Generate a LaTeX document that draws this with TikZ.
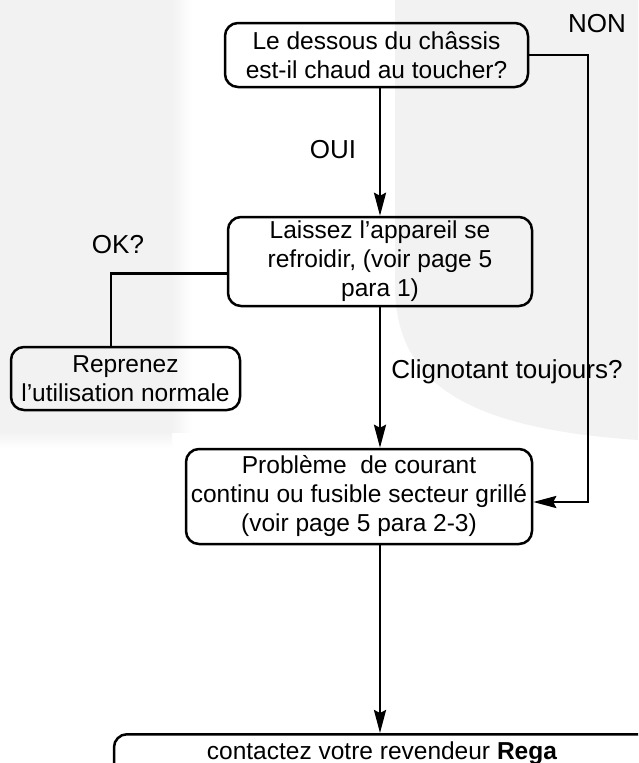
\documentclass[tikz,border=0pt]{standalone}
\usepackage{fontspec}
\setmainfont{Liberation Sans}
\usetikzlibrary{arrows.meta}
\definecolor{wm}{HTML}{F2F2F2}
\tikzset{
  box/.style={draw, line width=2.5pt, rounded corners=13pt, align=center, inner sep=0pt,
    font=\fontsize{24.5}{29}\selectfont},
  lbl/.style={font=\fontsize{26}{30}\selectfont, inner sep=0pt},
  conn/.style={line width=2.4pt},
  arr/.style={conn, -{Stealth[length=23pt,width=12pt,inset=3pt]}}
}
\begin{document}
\begin{tikzpicture}[x=1pt,y=-1pt]
\clip (0,0) rectangle (638,763);
\fill[white] (0,0) rectangle (638,763);
% faint watermark background
\fill[wm] (0,0) rectangle (172,432);
\shade[left color=wm, right color=white] (171.5,0) rectangle (192,432);
\shade[top color=wm, bottom color=white] (0,431.5) rectangle (172,448);
\fill[wm] (395,0) -- (395,290) .. controls (398,380) and (460,428) .. (638,440) -- (638,0) -- cycle;

% nodes
\node[box, minimum width=303pt, minimum height=64pt] (q1) at (376.5,55)
  {Le dessous du châssis\\est-il chaud au toucher?};
\node[box, minimum width=304pt, minimum height=89pt] (b2) at (380,261.5)
  {Laissez l’appareil se\\refroidir, (voir page 5\\para 1)};
\node[box, minimum width=229pt, minimum height=63pt] (rep) at (125.5,378.5)
  {Reprenez\\l’utilisation normale};
\node[box, minimum width=346pt, minimum height=95pt] (b3) at (359,496.5)
  {Problème\ \ de courant\\continu ou fusible secteur grillé\\(voir page 5 para 2-3)};
\node[box, minimum width=536pt, text height=25pt, text depth=22pt, anchor=north] (b4) at (382,733)
  {contactez votre revendeur \textbf{Rega}};

% labels
\node[lbl] (oui) at (333,150) {OUI};
\node[lbl] (non) at (597,24) {NON};
\node[lbl] (ok) at (118,245) {OK?};
\node[lbl] (cli) at (507,372) {Clignotant toujours?};

% connectors
\coordinate (nonc) at (588,55);
\draw[arr] (q1.south -| b2.north) -- (b2.north);
\draw[arr] (b2.south) -- (b2.south |- b3.north);
\draw[arr] (b3.south -| b2.south) -- (b2.south |- b4.north);
\draw[arr] (q1.east) -- (nonc) |- ([yshift=-5.5pt]b3.east);
\draw[conn] ([yshift=-12pt]b2.west) -| ([xshift=-14.5pt]rep.north);
\end{tikzpicture}
\end{document}
